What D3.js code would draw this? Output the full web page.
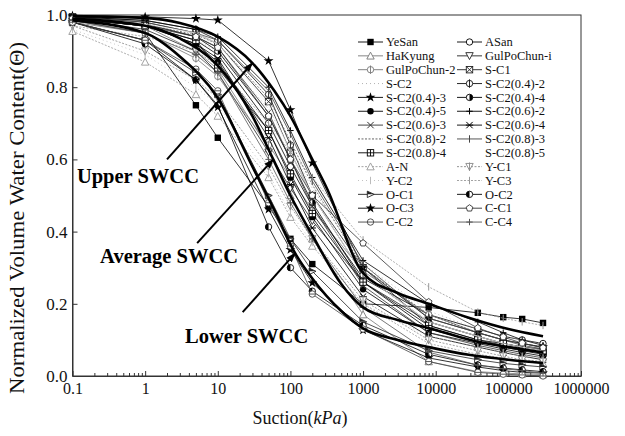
<!DOCTYPE html>
<html>
<head>
<meta charset="utf-8">
<script src="https://cdn.jsdelivr.net/npm/d3@7"></script>
<style>
  html, body { margin: 0; padding: 0; background: #fff; }
  svg { display: block; font-family: "Liberation Serif", "DejaVu Serif", serif; }
</style>
</head>
<body>
<svg id="chart" width="625" height="436"></svg>
<script>
// Measured suction levels (kPa)
const suction = [0.1, 1, 5, 10, 50, 100, 200, 1000, 8000, 38000, 85000, 155000, 300000];

// Normalized volumetric water content for each sample, one value per suction level
const seriesNames = [
  "YeSan", "ASan", "HaKyung", "GulPoChun-i", "GulPoChun-2", "S-C1", "S-C2",
  "S-C2(0.4)-2", "S-C2(0.4)-3", "S-C2(0.4)-4", "S-C2(0.4)-5", "S-C2(0.6)-2",
  "S-C2(0.6)-3", "S-C2(0.6)-4", "S-C2(0.8)-2", "S-C2(0.8)-3", "S-C2(0.8)-4",
  "S-C2(0.8)-5", "A-N", "Y-C1", "Y-C2", "Y-C3", "O-C1", "O-C2", "O-C3",
  "C-C1", "C-C2", "C-C4"
];
const yeSan      = [0.985, 0.95, 0.75, 0.66, 0.47, 0.38, 0.31, 0.20, 0.19, 0.175, 0.163, 0.158, 0.147];
const aSan       = [0.99, 0.97, 0.93, 0.89, 0.70, 0.58, 0.47, 0.27, 0.17, 0.13, 0.11, 0.10, 0.09];
const haKyung    = [0.99, 0.97, 0.90, 0.85, 0.63, 0.50, 0.38, 0.17, 0.04, 0.012, 0.008, 0.006, 0.004];
const gulPo1     = [0.99, 0.96, 0.90, 0.84, 0.62, 0.52, 0.43, 0.26, 0.15, 0.11, 0.09, 0.08, 0.075];
const gulPo2     = [0.98, 0.95, 0.88, 0.83, 0.64, 0.55, 0.46, 0.29, 0.17, 0.12, 0.10, 0.09, 0.08];
const sC1        = [0.995, 0.98, 0.95, 0.92, 0.76, 0.62, 0.50, 0.30, 0.14, 0.10, 0.085, 0.075, 0.065];
const sC2        = [0.99, 0.97, 0.93, 0.90, 0.74, 0.63, 0.52, 0.31, 0.18, 0.13, 0.11, 0.10, 0.09];
const sC2_04_2   = [0.995, 0.985, 0.96, 0.93, 0.78, 0.64, 0.50, 0.28, 0.15, 0.11, 0.09, 0.08, 0.07];
const sC2_04_3   = [0.998, 0.995, 0.99, 0.986, 0.873, 0.737, 0.59, 0.30, 0.16, 0.12, 0.10, 0.09, 0.08];
const sC2_04_4   = [0.99, 0.975, 0.94, 0.90, 0.72, 0.60, 0.48, 0.26, 0.13, 0.095, 0.08, 0.07, 0.06];
const sC2_04_5   = [0.99, 0.97, 0.92, 0.87, 0.68, 0.55, 0.44, 0.24, 0.12, 0.09, 0.075, 0.065, 0.055];
const sC2_06_2   = [0.995, 0.985, 0.96, 0.94, 0.80, 0.68, 0.55, 0.32, 0.20, 0.15, 0.12, 0.10, 0.085];
const sC2_06_3   = [0.99, 0.975, 0.94, 0.91, 0.73, 0.60, 0.47, 0.25, 0.12, 0.085, 0.07, 0.06, 0.05];
const sC2_06_4   = [0.99, 0.97, 0.92, 0.88, 0.66, 0.53, 0.41, 0.22, 0.11, 0.08, 0.065, 0.055, 0.045];
const sC2_08_2   = [0.99, 0.975, 0.945, 0.92, 0.77, 0.65, 0.53, 0.30, 0.17, 0.12, 0.10, 0.09, 0.08];
const sC2_08_3   = [0.995, 0.98, 0.95, 0.93, 0.79, 0.67, 0.54, 0.31, 0.16, 0.12, 0.10, 0.085, 0.075];
const sC2_08_4   = [0.99, 0.97, 0.93, 0.853, 0.68, 0.56, 0.45, 0.26, 0.14, 0.10, 0.09, 0.08, 0.07];
const sC2_08_5   = [0.99, 0.975, 0.95, 0.92, 0.75, 0.62, 0.50, 0.28, 0.15, 0.11, 0.09, 0.08, 0.07];
const aN         = [0.955, 0.87, 0.78, 0.72, 0.55, 0.44, 0.36, 0.20, 0.09, 0.06, 0.05, 0.04, 0.035];
const yC1        = [0.97, 0.90, 0.82, 0.77, 0.58, 0.47, 0.38, 0.21, 0.10, 0.07, 0.055, 0.045, 0.04];
const yC2        = [0.96, 0.89, 0.80, 0.75, 0.56, 0.45, 0.37, 0.20, 0.11, 0.08, 0.065, 0.055, 0.05];
const yC3        = [0.97, 0.94, 0.90, 0.86, 0.70, 0.62, 0.55, 0.377, 0.247, 0.177, 0.16, 0.15, 0.14];
const oC1        = [0.98, 0.93, 0.84, 0.78, 0.50, 0.38, 0.29, 0.15, 0.07, 0.045, 0.035, 0.03, 0.025];
const oC2        = [0.98, 0.92, 0.82, 0.75, 0.413, 0.30, 0.235, 0.14, 0.06, 0.03, 0.022, 0.017, 0.012];
const oC3        = [0.98, 0.93, 0.82, 0.745, 0.462, 0.35, 0.258, 0.127, 0.05, 0.025, 0.015, 0.01, 0.008];
const cC1        = [0.99, 0.97, 0.94, 0.91, 0.72, 0.60, 0.50, 0.368, 0.205, 0.133, 0.108, 0.091, 0.078];
const cC2        = [0.98, 0.93, 0.85, 0.79, 0.48, 0.36, 0.227, 0.13, 0.04, 0.01, 0.005, 0.003, 0.0];
const cC4        = [0.985, 0.95, 0.89, 0.84, 0.60, 0.48, 0.38, 0.19, 0.066, 0.03, 0.02, 0.015, 0.008];

const seriesValues = [
  yeSan, aSan, haKyung, gulPo1, gulPo2, sC1, sC2, sC2_04_2, sC2_04_3, sC2_04_4,
  sC2_04_5, sC2_06_2, sC2_06_3, sC2_06_4, sC2_08_2, sC2_08_3, sC2_08_4, sC2_08_5,
  aN, yC1, yC2, yC3, oC1, oC2, oC3, cC1, cC2, cC4
];

// Envelope curves: [suction, theta]
const upperSWCC = [[0.1,0.997],[1,0.992],[3,0.978],[10,0.94],[30,0.867],[60,0.79],[100,0.72],[200,0.60],[317,0.52],[1000,0.285],[3000,0.23],[8000,0.20],[30000,0.16],[100000,0.13],[300000,0.11]];
const avgSWCC   = [[0.1,0.99],[1,0.97],[3,0.935],[10,0.86],[30,0.72],[58,0.60],[100,0.50],[200,0.39],[500,0.255],[1000,0.19],[3000,0.155],[8000,0.133],[30000,0.10],[100000,0.08],[300000,0.065]];
const lowerSWCC = [[0.1,0.985],[1,0.95],[3,0.885],[10,0.77],[30,0.58],[60,0.46],[116,0.34],[200,0.27],[500,0.18],[1000,0.132],[3000,0.10],[8000,0.08],[30000,0.058],[100000,0.045],[300000,0.036]];

const xTickValues = [0.1, 1, 10, 100, 1000, 10000, 100000, 1000000];
const xTickLabels = ["0.1", "1", "10", "100", "1000", "10000", "100000", "1000000"];
const yTickValues = [0, 0.2, 0.4, 0.6, 0.8, 1.0];
const yTickLabels = ["0.0", "0.2", "0.4", "0.6", "0.8", "1.0"];

// Annotation labels and arrows in data space
const envelopeLabels = [
  { text: "Upper SWCC",   at: [0.115, 0.535], from: [2.0, 0.60],  to: [30, 0.867] },
  { text: "Average SWCC", at: [0.24, 0.313],  from: [5.2, 0.368], to: [58, 0.60] },
  { text: "Lower SWCC",   at: [3.54, 0.091],  from: [22, 0.177],  to: [116, 0.34] }
];

// Marker and line style per sample
const styles = [
  { m: "sqFill",   c: "#000", dash: null },
  { m: "circle",   c: "#000", dash: null },
  { m: "triUp",    c: "#777", dash: null },
  { m: "triDown",  c: "#222", dash: null },
  { m: "circVert", c: "#777", dash: null },
  { m: "bowtie",   c: "#222", dash: null },
  { m: "none",     c: "#aaa", dash: "1,3" },
  { m: "circVert", c: "#111", dash: null },
  { m: "star",     c: "#000", dash: null },
  { m: "halfR",    c: "#000", dash: null },
  { m: "dot",      c: "#000", dash: null },
  { m: "plus",     c: "#000", dash: null },
  { m: "cross",    c: "#333", dash: null },
  { m: "aster",    c: "#000", dash: null },
  { m: "none",     c: "#555", dash: "2,1.5" },
  { m: "vbar",     c: "#444", dash: null },
  { m: "sqPlus",   c: "#000", dash: null },
  { m: "none",     c: "#fff", dash: null },
  { m: "triUp",    c: "#999", dash: "2,1.5" },
  { m: "triDownV", c: "#888", dash: "2,1.5" },
  { m: "vbar",     c: "#bbb", dash: "1,3" },
  { m: "vbar",     c: "#999", dash: "2,1.5" },
  { m: "triRight", c: "#222", dash: null },
  { m: "halfL",    c: "#000", dash: null },
  { m: "star",     c: "#000", dash: null },
  { m: "pent",     c: "#333", dash: null },
  { m: "circH",    c: "#444", dash: null },
  { m: "plus",     c: "#555", dash: null }
];

const svg = d3.select("#chart");
const W = 625, H = 436;
const plot = { left: 72.5, right: 581, top: 15, bottom: 376 };

const x = d3.scaleLog().domain([0.1, 1e6]).range([plot.left, plot.right]);
const y = d3.scaleLinear().domain([0, 1]).range([plot.bottom, plot.top]);

svg.append("rect").attr("width", W).attr("height", H).attr("fill", "#fff");

// Frame
svg.append("rect")
  .attr("x", plot.left).attr("y", plot.top)
  .attr("width", plot.right - plot.left).attr("height", plot.bottom - plot.top)
  .attr("fill", "none").attr("stroke", "#333").attr("stroke-width", 1);

// X axis with inward decade and minor ticks
const minorX = [];
for (let e = -1; e < 6; e++) for (let k = 2; k <= 9; k++) minorX.push(k * Math.pow(10, e));

const xAxis = d3.axisBottom(x).tickValues(xTickValues)
  .tickFormat((d, i) => xTickLabels[i]).tickSizeInner(-5).tickSizeOuter(0).tickPadding(7);
const gx = svg.append("g").attr("transform", `translate(0,${plot.bottom})`).call(xAxis);
gx.select(".domain").attr("stroke", "#333");
gx.selectAll(".tick line").attr("stroke", "#333");
gx.selectAll("text").attr("font-size", 16).attr("fill", "#111").attr("font-family", "Liberation Serif, serif");

const gxm = svg.append("g").attr("transform", `translate(0,${plot.bottom})`)
  .call(d3.axisBottom(x).tickValues(minorX).tickFormat("").tickSizeInner(-3).tickSizeOuter(0));
gxm.select(".domain").remove();
gxm.selectAll(".tick line").attr("stroke", "#333");

// Y axis
const yAxis = d3.axisLeft(y).tickValues(yTickValues)
  .tickFormat((d, i) => yTickLabels[i]).tickSizeInner(-5).tickSizeOuter(0).tickPadding(5);
const gy = svg.append("g").attr("transform", `translate(${plot.left},0)`).call(yAxis);
gy.select(".domain").attr("stroke", "#333");
gy.selectAll(".tick line").attr("stroke", "#333");
gy.selectAll("text").attr("font-size", 17).attr("fill", "#111").attr("font-family", "Liberation Serif, serif");

// Axis titles
svg.append("text")
  .attr("x", 300).attr("y", 424).attr("text-anchor", "middle")
  .attr("font-size", 18).attr("fill", "#111")
  .html('Suction(<tspan font-style="italic">kPa</tspan>)');

svg.append("text")
  .attr("transform", "translate(24,218) rotate(-90)")
  .attr("text-anchor", "middle").attr("font-size", 20).attr("fill", "#111")
  .attr("textLength", 352).attr("lengthAdjust", "spacingAndGlyphs")
  .text("Normalized Volume Water Content(\u0398)");

// Marker drawing
function drawMarker(g, type, cx, cy, color) {
  const s = 3.2;
  const stroke = color === "#fff" ? "none" : color;
  const open = { fill: "#fff", stroke: stroke, "stroke-width": 0.9 };
  const apply = (el, attrs) => { for (const k in attrs) el.attr(k, attrs[k]); return el; };
  switch (type) {
    case "sqFill":
      g.append("rect").attr("x", cx - s).attr("y", cy - s).attr("width", 2 * s).attr("height", 2 * s).attr("fill", color);
      break;
    case "circle":
      apply(g.append("circle").attr("cx", cx).attr("cy", cy).attr("r", s), open);
      break;
    case "dot":
      g.append("circle").attr("cx", cx).attr("cy", cy).attr("r", s).attr("fill", color);
      break;
    case "triUp":
      apply(g.append("path").attr("d", `M${cx},${cy - s - 0.5}L${cx + s + 0.5},${cy + s}L${cx - s - 0.5},${cy + s}Z`), open);
      break;
    case "triDown":
      apply(g.append("path").attr("d", `M${cx},${cy + s + 0.5}L${cx + s + 0.5},${cy - s}L${cx - s - 0.5},${cy - s}Z`), open);
      break;
    case "triDownV":
      apply(g.append("path").attr("d", `M${cx},${cy + s + 0.5}L${cx + s + 0.5},${cy - s}L${cx - s - 0.5},${cy - s}Z`), open);
      g.append("path").attr("d", `M${cx},${cy - s - 1}V${cy + s + 1}`).attr("stroke", stroke).attr("stroke-width", 0.9);
      break;
    case "triRight":
      apply(g.append("path").attr("d", `M${cx + s + 0.5},${cy}L${cx - s},${cy - s}L${cx - s},${cy + s}Z`), open);
      g.append("path").attr("d", `M${cx + s},${cy}L${cx - s},${cy - s}L${cx - s},${cy}Z`).attr("fill", color);
      break;
    case "circVert":
      apply(g.append("circle").attr("cx", cx).attr("cy", cy).attr("r", s), open);
      g.append("path").attr("d", `M${cx},${cy - s - 1}V${cy + s + 1}`).attr("stroke", stroke).attr("stroke-width", 0.9);
      break;
    case "circH":
      apply(g.append("circle").attr("cx", cx).attr("cy", cy).attr("r", s), open);
      g.append("path").attr("d", `M${cx - s},${cy}H${cx + s}`).attr("stroke", stroke).attr("stroke-width", 0.9);
      break;
    case "halfR":
      apply(g.append("circle").attr("cx", cx).attr("cy", cy).attr("r", s), open);
      g.append("path").attr("d", `M${cx},${cy - s}A${s},${s} 0 0 1 ${cx},${cy + s}Z`).attr("fill", color);
      break;
    case "halfL":
      apply(g.append("circle").attr("cx", cx).attr("cy", cy).attr("r", s), open);
      g.append("path").attr("d", `M${cx},${cy - s}A${s},${s} 0 0 0 ${cx},${cy + s}Z`).attr("fill", color);
      break;
    case "star":
      g.append("path").attr("d", d3.symbol(d3.symbolStar, 30)()).attr("transform", `translate(${cx},${cy})`).attr("fill", color);
      break;
    case "pent": {
      const pts = d3.range(5).map(i => {
        const a = -Math.PI / 2 + i * 2 * Math.PI / 5;
        return [cx + (s + 0.3) * Math.cos(a), cy + (s + 0.3) * Math.sin(a)];
      });
      apply(g.append("path").attr("d", "M" + pts.join("L") + "Z"), open);
      break;
    }
    case "bowtie":
      apply(g.append("rect").attr("x", cx - s).attr("y", cy - s).attr("width", 2 * s).attr("height", 2 * s), open);
      g.append("path").attr("d", `M${cx - s},${cy - s}L${cx + s},${cy + s}M${cx + s},${cy - s}L${cx - s},${cy + s}`).attr("stroke", stroke).attr("stroke-width", 0.9);
      break;
    case "sqPlus":
      apply(g.append("rect").attr("x", cx - s).attr("y", cy - s).attr("width", 2 * s).attr("height", 2 * s), open);
      g.append("path").attr("d", `M${cx - s},${cy}H${cx + s}M${cx},${cy - s}V${cy + s}`).attr("stroke", stroke).attr("stroke-width", 0.9);
      break;
    case "plus":
      g.append("path").attr("d", `M${cx - s},${cy}H${cx + s}M${cx},${cy - s}V${cy + s}`).attr("stroke", stroke).attr("stroke-width", 1);
      break;
    case "cross":
      g.append("path").attr("d", `M${cx - s},${cy - s}L${cx + s},${cy + s}M${cx + s},${cy - s}L${cx - s},${cy + s}`).attr("stroke", stroke).attr("stroke-width", 1);
      break;
    case "aster":
      g.append("path").attr("d", `M${cx - s},${cy - s}L${cx + s},${cy + s}M${cx + s},${cy - s}L${cx - s},${cy + s}M${cx - s - 0.5},${cy}H${cx + s + 0.5}`).attr("stroke", stroke).attr("stroke-width", 1);
      break;
    case "vbar":
      g.append("path").attr("d", `M${cx},${cy - s - 0.5}V${cy + s + 0.5}`).attr("stroke", stroke).attr("stroke-width", 1);
      break;
    default:
      break;
  }
}

const defs = svg.append("defs");
const lineGen = d3.line().x(d => x(d[0])).y(d => y(d[1]));
const samplesG = svg.append("g");

// Sample curves with their markers
seriesValues.forEach((vals, i) => {
  const st = styles[i];
  const pts = suction.map((s, j) => [s, vals[j]]);
  const g = samplesG.append("g");
  g.append("path").attr("d", lineGen(pts))
    .attr("fill", "none").attr("stroke", st.c === "#fff" ? "#f2f2f2" : st.c)
    .attr("stroke-width", 0.8)
    .attr("stroke-dasharray", st.dash);
  pts.forEach(p => drawMarker(g, st.m, x(p[0]), y(p[1]), st.c));
});

// Envelope curves
const envLine = d3.line().x(d => x(d[0])).y(d => y(d[1])).curve(d3.curveMonotoneX);
[upperSWCC, avgSWCC, lowerSWCC].forEach(curve => {
  svg.append("path").attr("d", envLine(curve))
    .attr("fill", "none").attr("stroke", "#000").attr("stroke-width", 2.6);
});

// Legend
const legend = svg.append("g");
const legRowY0 = 42, legRowH = 13.85;
const legColX = [358, 457];
seriesNames.forEach((name, i) => {
  const col = i % 2, row = Math.floor(i / 2);
  const st = styles[i];
  const lx = legColX[col], ly = legRowY0 + row * legRowH;
  const g = legend.append("g");
  if (st.c !== "#fff") {
    g.append("line").attr("x1", lx).attr("x2", lx + 25).attr("y1", ly).attr("y2", ly)
      .attr("stroke", st.c).attr("stroke-width", 0.9).attr("stroke-dasharray", st.dash);
    drawMarker(g, st.m, lx + 12.5, ly, st.c);
  }
  g.append("text").attr("x", lx + 28).attr("y", ly + 4.2)
    .attr("font-size", 12.5).attr("fill", "#111").text(name);
});

// Arrow head
defs.append("marker")
  .attr("id", "arrowHead").attr("viewBox", "0 0 10 10")
  .attr("refX", 9).attr("refY", 5)
  .attr("markerWidth", 5).attr("markerHeight", 5)
  .attr("markerUnits", "strokeWidth").attr("orient", "auto")
  .append("path").attr("d", "M0,1.5L10,5L0,8.5Z").attr("fill", "#000");

// Envelope annotations
envelopeLabels.forEach(lab => {
  svg.append("line")
    .attr("x1", x(lab.from[0])).attr("y1", y(lab.from[1]))
    .attr("x2", x(lab.to[0])).attr("y2", y(lab.to[1]))
    .attr("stroke", "#000").attr("stroke-width", 2)
    .attr("marker-end", "url(#arrowHead)");
  svg.append("text")
    .attr("x", x(lab.at[0])).attr("y", y(lab.at[1]))
    .attr("font-size", 20.5).attr("font-weight", "bold").attr("fill", "#000")
    .text(lab.text);
});
</script>
</body>
</html>
